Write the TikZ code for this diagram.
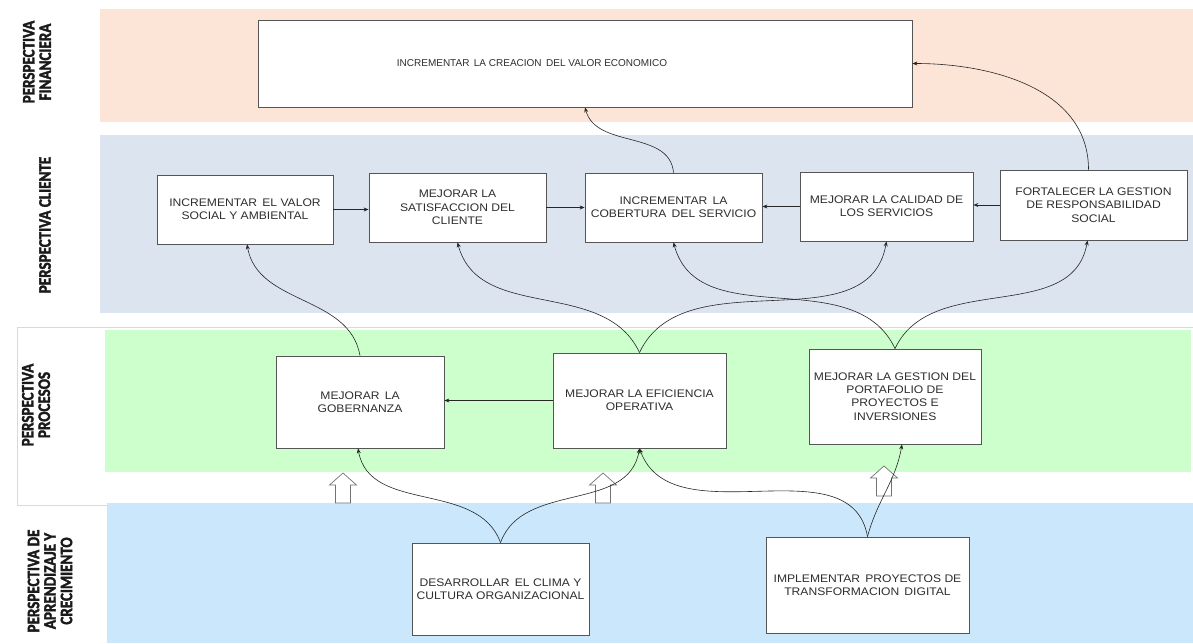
\documentclass[tikz,border=0pt]{standalone}
\usepackage{fontspec}
\setmainfont{Liberation Sans}
\newfontfamily\boxfont[FakeStretch=1.1]{Liberation Sans}
\newfontfamily\labfont{Carlito}[FakeStretch=0.86, BoldFeatures={FakeBold=2}]
\usetikzlibrary{arrows.meta}
\definecolor{finband}{HTML}{FCE4D6}
\definecolor{cliband}{HTML}{DCE4F0}
\definecolor{procband}{HTML}{CCFFCC}
\definecolor{aprband}{HTML}{CAE7FB}
\definecolor{boxline}{HTML}{555555}
\definecolor{txtcol}{HTML}{2E2E2E}
\definecolor{labcol}{HTML}{1A1A1A}
\begin{document}
\begin{tikzpicture}[x=1pt,y=1pt,
  obox/.style={draw=boxline, line width=0.8pt, fill=white, inner sep=2pt,
    align=center, text=txtcol, font=\boxfont\fontsize{11}{13.3}\selectfont},
  txt/.style={align=center, text=txtcol, font=\fontsize{10}{13}\selectfont},
  plab/.style={rotate=90, align=center, text=labcol, font=\labfont\bfseries\fontsize{17.5}{16.5}\selectfont},
  conn/.style={draw=black!85, line width=0.6pt, -{Stealth[length=5pt,width=4pt]}},
  hollow/.style={draw=black!55, fill=white, line width=0.7pt},
  uparrow/.pic={\draw[hollow] (-7.5,0) -- (-7.5,18) -- (-13.5,18) -- (0,30) -- (13.5,18) -- (7.5,18) -- (7.5,0) -- cycle;}
]
\useasboundingbox (0,0) rectangle (1193,643);
\fill[white] (0,0) rectangle (1193,643);
% bands
\fill[finband] (100,521) rectangle (1193,634);
\fill[cliband] (100,330) rectangle (1193,508);
\draw[gray!30, line width=0.8pt] (17,138) rectangle (1200,316);
\fill[procband] (105,171) rectangle (1191,313);
\fill[aprband] (107,0) rectangle (1193,140);
% side labels
\node[plab] (l1) at (37,581) {PERSPECTIVA\\FINANCIERA};
\node[plab] (l2) at (45,418) {PERSPECTIVA CLIENTE};
\node[plab] (l3) at (36,238) {PERSPECTIVA\\PROCESOS};
\node[plab] (l4) at (50,62) {PERSPECTIVA DE\\APRENDIZAJE Y\\CRECIMIENTO};
% boxes
\node[obox, minimum width=654, minimum height=87] (F) at (585,579.5) {};
\node[txt] (Ft) at (532,579.5) {INCREMENTAR\, LA CREACION\, DEL VALOR ECONOMICO};
\node[obox, minimum width=176, minimum height=69] (A) at (245,433.5) {INCREMENTAR\, EL VALOR\\SOCIAL Y AMBIENTAL};
\node[obox, minimum width=177, minimum height=69] (B) at (457.5,435.5) {MEJORAR LA\\SATISFACCION DEL\\CLIENTE};
\node[obox, minimum width=177, minimum height=69] (C) at (673.5,435.5) {INCREMENTAR\, LA\\COBERTURA\, DEL SERVICIO};
\node[obox, minimum width=173, minimum height=69] (D) at (886.5,436.5) {MEJORAR LA CALIDAD DE\\LOS SERVICIOS};
\node[obox, minimum width=187, minimum height=70] (E) at (1093.5,438) {FORTALECER LA GESTION\\DE RESPONSABILIDAD\\SOCIAL};
\node[obox, minimum width=168, minimum height=92] (G) at (360,241) {MEJORAR\, LA\\GOBERNANZA};
\node[obox, minimum width=173, minimum height=95] (O) at (639.5,242.5) {MEJORAR LA EFICIENCIA\\OPERATIVA};
\node[obox, minimum width=172, minimum height=95] (P) at (895,246.5) {MEJORAR LA GESTION DEL\\PORTAFOLIO DE\\PROYECTOS E\\INVERSIONES};
\node[obox, minimum width=177, minimum height=92] (CL) at (500.5,54) {DESARROLLAR\, EL CLIMA Y\\CULTURA ORGANIZACIONAL};
\node[obox, minimum width=203, minimum height=96] (TD) at (867.5,58) {IMPLEMENTAR\, PROYECTOS DE\\TRANSFORMACION\, DIGITAL};
% hollow arrows
\pic at (343,140) {uparrow};
\pic at (603,140) {uparrow};
\pic at (884,147) {uparrow};
% horizontal connectors
\draw[conn] (A.east) -- (A.east -| B.west);
\draw[conn] (B.east) -- (B.east -| C.west);
\draw[conn] (D.west) -- (D.west -| C.east);
\draw[conn] (E.west) -- (E.west -| D.east);
\draw[conn] (O.west) -- (O.west -| G.east);
% curved connectors
\draw[conn] (C.north) to[out=95,in=-75] (F.south);
\draw[conn] ([xshift=-5pt]E.north) to[out=90,in=0] (F.east);
\draw[conn] (G.north) to[out=100,in=-80] ([xshift=2pt]A.south);
\draw[conn] (O.north) to[out=115,in=-75] (B.south);
\draw[conn] (O.north) to[out=65,in=-100] (D.south);
\draw[conn] (P.north) to[out=115,in=-75] (C.south);
\draw[conn] (P.north) to[out=65,in=-100] ([xshift=-6pt]E.south);
\draw[conn] (CL.north) to[out=110,in=-80] ([xshift=-2pt]G.south);
\draw[conn] (CL.north) to[out=70,in=-100] (O.south);
\draw[conn] (TD.north) to[out=100,in=-70] (O.south);
\draw[conn] (TD.north) to[out=75,in=-100] ([xshift=7pt]P.south);
\end{tikzpicture}
\end{document}
